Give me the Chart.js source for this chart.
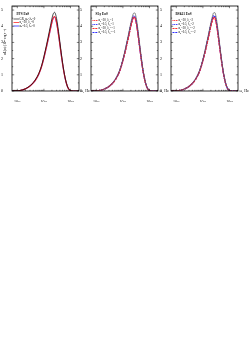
<!DOCTYPE html>
<html>
<head>
<meta charset="utf-8">
<script src="https://cdn.jsdelivr.net/npm/chart.js@4.4.1/dist/chart.umd.min.js"></script>
<style>
  body { margin: 0; background: #fff; width: 251px; height: 354px; overflow: hidden; }
  canvas { position: absolute; top: 0; }
</style>
</head>
<body>
<canvas id="c1" width="92" height="102" style="left:0px"></canvas>
<canvas id="c2" width="92" height="102" style="left:79px"></canvas>
<canvas id="c3" width="92" height="102" style="left:159px"></canvas>
<script>
// frequency grid, log10(omega / Hz)
const logOmega = [15.8, 15.9, 16.0, 16.1, 16.2, 16.3, 16.4, 16.5, 16.6, 16.7, 16.8, 16.9, 17.0, 17.1, 17.2, 17.25, 17.3, 17.35, 17.4, 17.45, 17.5, 17.55, 17.6, 17.65, 17.7, 17.75, 17.8, 17.85, 17.9, 17.95, 18.0, 18.05, 18.1, 18.2, 18.32];

// FPS EoS
const fpsGR    = [0.00,0.005,0.01,0.03,0.07,0.13,0.23,0.35,0.52,0.75,1.06,1.50,2.13,2.86,3.66,4.06,4.46,4.76,4.86,4.68,4.26,3.68,3.04,2.39,1.78,1.25,0.81,0.47,0.23,0.09,0.03,0.01,0.00,0.00,0.00];
const fpsA30   = [0.00,0.005,0.01,0.03,0.07,0.13,0.22,0.34,0.50,0.72,1.02,1.45,2.05,2.75,3.50,3.88,4.25,4.52,4.60,4.42,4.02,3.48,2.88,2.27,1.70,1.20,0.78,0.45,0.22,0.09,0.03,0.01,0.00,0.00,0.00];
const fpsA05   = [0.00,0.005,0.01,0.03,0.07,0.13,0.22,0.34,0.50,0.72,1.01,1.44,2.03,2.73,3.47,3.85,4.22,4.49,4.57,4.40,4.00,3.46,2.87,2.26,1.69,1.19,0.77,0.45,0.22,0.09,0.03,0.01,0.00,0.00,0.00];

// SLy EoS
const slyGR    = [0.00,0.005,0.01,0.03,0.06,0.12,0.21,0.32,0.48,0.69,0.98,1.39,1.96,2.66,3.42,3.82,4.22,4.56,4.80,4.82,4.52,3.98,3.32,2.63,1.98,1.39,0.91,0.53,0.26,0.10,0.04,0.01,0.00,0.00,0.00];
const slyA30p  = [0.00,0.005,0.01,0.03,0.06,0.12,0.20,0.31,0.46,0.66,0.94,1.33,1.88,2.55,3.28,3.66,4.04,4.36,4.56,4.54,4.24,3.72,3.10,2.46,1.85,1.30,0.85,0.50,0.25,0.10,0.04,0.01,0.00,0.00,0.00];
const slyA05p  = [0.00,0.005,0.01,0.03,0.06,0.12,0.20,0.31,0.47,0.67,0.95,1.35,1.91,2.59,3.33,3.71,4.10,4.42,4.62,4.60,4.30,3.78,3.15,2.50,1.88,1.32,0.86,0.50,0.25,0.10,0.04,0.01,0.00,0.00,0.00];
const slyA30m  = [0.00,0.005,0.01,0.03,0.06,0.12,0.20,0.31,0.46,0.65,0.93,1.32,1.86,2.52,3.24,3.62,4.00,4.32,4.52,4.50,4.20,3.69,3.07,2.44,1.83,1.29,0.84,0.49,0.24,0.10,0.04,0.01,0.00,0.00,0.00];
const slyA05m  = [0.00,0.005,0.01,0.03,0.06,0.12,0.20,0.31,0.46,0.66,0.94,1.34,1.89,2.56,3.30,3.68,4.06,4.38,4.58,4.56,4.26,3.74,3.12,2.48,1.86,1.31,0.85,0.50,0.25,0.10,0.04,0.01,0.00,0.00,0.00];

// BSk21 EoS
const bskGR    = [0.00,0.005,0.01,0.03,0.06,0.12,0.21,0.32,0.48,0.69,0.98,1.39,1.96,2.66,3.42,3.82,4.22,4.56,4.82,4.84,4.54,3.99,3.32,2.63,1.98,1.39,0.91,0.53,0.26,0.10,0.04,0.01,0.00,0.00,0.00];
const bskA30p  = [0.00,0.005,0.01,0.03,0.06,0.12,0.20,0.31,0.46,0.66,0.94,1.33,1.88,2.55,3.28,3.66,4.04,4.36,4.55,4.53,4.23,3.71,3.10,2.46,1.85,1.30,0.85,0.50,0.25,0.10,0.04,0.01,0.00,0.00,0.00];
const bskA05p  = [0.00,0.005,0.01,0.03,0.06,0.12,0.20,0.31,0.47,0.67,0.95,1.35,1.91,2.59,3.34,3.72,4.11,4.44,4.64,4.62,4.31,3.78,3.15,2.50,1.88,1.32,0.86,0.50,0.25,0.10,0.04,0.01,0.00,0.00,0.00];
const bskA30m  = [0.00,0.005,0.01,0.03,0.06,0.12,0.20,0.31,0.46,0.65,0.93,1.32,1.86,2.52,3.24,3.62,4.00,4.31,4.50,4.48,4.19,3.68,3.07,2.44,1.83,1.29,0.84,0.49,0.24,0.10,0.04,0.01,0.00,0.00,0.00];
const bskA05m  = [0.00,0.005,0.01,0.03,0.06,0.12,0.20,0.31,0.46,0.66,0.94,1.34,1.89,2.57,3.31,3.69,4.08,4.40,4.60,4.58,4.28,3.76,3.13,2.49,1.87,1.31,0.85,0.50,0.25,0.10,0.04,0.01,0.00,0.00,0.00];

const yTicks = [0, 1, 2, 3, 4, 5];
const xDecades = [16, 17, 18];

const RED = '#ff2a2a';
const BLUE = '#2a2aff';
const FONT = "'Liberation Serif', 'DejaVu Serif', serif";

const sup = {'0':'⁰','1':'¹','2':'²','3':'³','4':'⁴','5':'⁵','6':'⁶','7':'⁷','8':'⁸','9':'⁹','-':'⁻'};
const toSup = s => String(s).split('').map(c => sup[c] || c).join('');

const points = arr => logOmega.map((e, i) => ({x: Math.pow(10, e), y: arr[i]}));

const line = (arr, color, width, dash) => ({
    data: points(arr),
    borderColor: color,
    borderWidth: width,
    borderDash: dash || [],
    pointRadius: 0,
    fill: false,
    cubicInterpolationMode: 'monotone'
});

// draws text with "_x" pieces as subscripts
const drawRich = (ctx, parts, x, y, size) => {
    let cx = x;
    parts.forEach(p => {
        const s = p.sub ? size * 0.7 : size;
        ctx.font = s + 'px ' + FONT;
        ctx.fillText(p.t, cx, p.sub ? y + size * 0.3 : y);
        cx += ctx.measureText(p.t).width;
    });
};

const lbl = (a, l) => [{t:'α'},{t:'g',sub:true},{t:'=' + a + ', λ'},{t:'g',sub:true},{t:'=' + l}];

const framePlugin = {
    id: 'frame',
    afterDraw(chart, args, opts) {
        const ctx = chart.ctx;
        const a = chart.chartArea;
        const xs = chart.scales.x, ys = chart.scales.y;
        ctx.save();
        ctx.strokeStyle = '#000';
        ctx.lineWidth = 0.8;
        ctx.strokeRect(a.left, a.top, a.right - a.left, a.bottom - a.top);
        ctx.lineWidth = 0.5;
        ctx.beginPath();
        // y ticks, major and minor
        for (let v = 0; v <= 5.001; v += 0.5) {
            const py = ys.getPixelForValue(v);
            const len = Number.isInteger(v) ? 2.2 : 1.2;
            ctx.moveTo(a.left, py); ctx.lineTo(a.left + len, py);
            ctx.moveTo(a.right, py); ctx.lineTo(a.right - len, py);
        }
        // x ticks on log axis
        [15, 16, 17, 18].forEach(d => {
            for (let m = 1; m <= 9; m++) {
                const v = m * Math.pow(10, d);
                if (v < xs.min || v > xs.max) continue;
                const px = xs.getPixelForValue(v);
                const len = m === 1 ? 2.2 : 1.2;
                ctx.moveTo(px, a.bottom); ctx.lineTo(px, a.bottom - len);
                ctx.moveTo(px, a.top); ctx.lineTo(px, a.top + len);
            }
        });
        ctx.stroke();

        // x axis title
        ctx.fillStyle = '#000';
        ctx.font = '4px ' + FONT;
        ctx.textBaseline = 'middle';
        ctx.fillText('ω, Hz', a.right + 1.5, a.bottom);

        // panel title
        ctx.textBaseline = 'alphabetic';
        ctx.font = 'bold 3.4px ' + FONT;
        ctx.fillText(opts.title, a.left + 4.5, a.top + 9);

        // legend
        opts.items.forEach((it, i) => {
            const y = a.top + opts.y0 + i * opts.dy;
            ctx.strokeStyle = it.color;
            ctx.lineWidth = it.width;
            ctx.setLineDash(it.dash || []);
            ctx.beginPath();
            ctx.moveTo(a.left + 1.5, y);
            ctx.lineTo(a.left + 7, y);
            ctx.stroke();
            ctx.setLineDash([]);
            ctx.fillStyle = '#000';
            ctx.textBaseline = 'middle';
            drawRich(ctx, it.label, a.left + 7.5, y, 3);
        });

        // y axis title
        if (opts.yTitle) {
            ctx.save();
            ctx.translate(5.5, a.top + 36);
            ctx.rotate(-Math.PI / 2);
            ctx.font = '3.2px ' + FONT;
            ctx.textAlign = 'center';
            ctx.textBaseline = 'middle';
            ctx.fillStyle = '#000';
            ctx.fillText(opts.yTitle, 0, 0);
            ctx.restore();
        }
        ctx.restore();
    }
};

const makeChart = (id, datasets, frame) => new Chart(document.getElementById(id), {
    type: 'line',
    data: { datasets: datasets },
    plugins: [framePlugin],
    options: {
        responsive: false,
        animation: false,
        devicePixelRatio: 1,
        layout: { padding: { top: 6, right: 13, left: 0, bottom: 0 } },
        plugins: { legend: { display: false }, tooltip: { enabled: false }, frame: frame },
        scales: {
            x: {
                type: 'logarithmic',
                min: Math.pow(10, 15.8),
                max: Math.pow(10, 18.32),
                grid: { display: false },
                border: { display: false },
                afterFit: s => { s.height = 11; },
                afterBuildTicks: s => { s.ticks = xDecades.map(d => ({value: Math.pow(10, d)})); },
                ticks: {
                    autoSkip: false,
                    maxRotation: 0,
                    padding: 1,
                    color: '#000',
                    font: { size: 4, family: FONT },
                    callback: v => '10' + toSup(Math.round(Math.log10(v)))
                }
            },
            y: {
                min: 0,
                max: 5.25,
                grid: { display: false },
                border: { display: false },
                afterFit: s => { s.width = 12; },
                afterBuildTicks: s => { s.ticks = yTicks.map(v => ({value: v})); },
                ticks: {
                    padding: 1,
                    color: '#000',
                    font: { size: 4, family: FONT }
                }
            }
        }
    }
});

makeChart('c1', [
    line(fpsGR, '#000', 0.7),
    line(fpsA30, RED, 1.2),
    line(fpsA05, 'rgba(42,42,255,0.7)', 1.2)
], {
    title: 'FPS EoS',
    yTitle: 'ωL(ω) (10³⁷ erg s⁻¹)',
    y0: 13, dy: 3.5,
    items: [
        { color: '#000', width: 0.6, label: [{t:'GR, α'},{t:'g',sub:true},{t:'=λ'},{t:'g',sub:true},{t:'=0'}] },
        { color: RED, width: 0.8, label: lbl('30', '0') },
        { color: BLUE, width: 0.8, label: lbl('0.5', '0') }
    ]
});

makeChart('c2', [
    line(slyGR, '#555', 0.7),
    line(slyA30p, RED, 1.2, [1.2, 0.8]),
    line(slyA05p, BLUE, 1.2, [1.2, 0.8]),
    line(slyA30m, RED, 1.2, [2.5, 1]),
    line(slyA05m, BLUE, 1.2, [2.5, 1])
], {
    title: 'SLy EoS',
    y0: 14.5, dy: 4,
    items: [
        { color: RED, width: 1, dash: [1, 0.7], label: lbl('30', '1') },
        { color: BLUE, width: 1, dash: [1, 0.7], label: lbl('0.5', '1') },
        { color: RED, width: 1, dash: [2, 0.8], label: lbl('30', '−1') },
        { color: BLUE, width: 1, dash: [2, 0.8], label: lbl('0.5', '−1') }
    ]
});

makeChart('c3', [
    line(bskGR, '#555', 0.7),
    line(bskA30p, RED, 1.2, [1.2, 0.8]),
    line(bskA05p, BLUE, 1.2, [1.2, 0.8]),
    line(bskA30m, RED, 1.2, [2.5, 1]),
    line(bskA05m, BLUE, 1.2, [2.5, 1])
], {
    title: 'BSk21 EoS',
    y0: 14.5, dy: 4,
    items: [
        { color: RED, width: 1, dash: [1, 0.7], label: lbl('30', '2') },
        { color: BLUE, width: 1, dash: [1, 0.7], label: lbl('0.5', '2') },
        { color: RED, width: 1, dash: [2, 0.8], label: lbl('30', '−2') },
        { color: BLUE, width: 1, dash: [2, 0.8], label: lbl('0.5', '−2') }
    ]
});
</script>
</body>
</html>
